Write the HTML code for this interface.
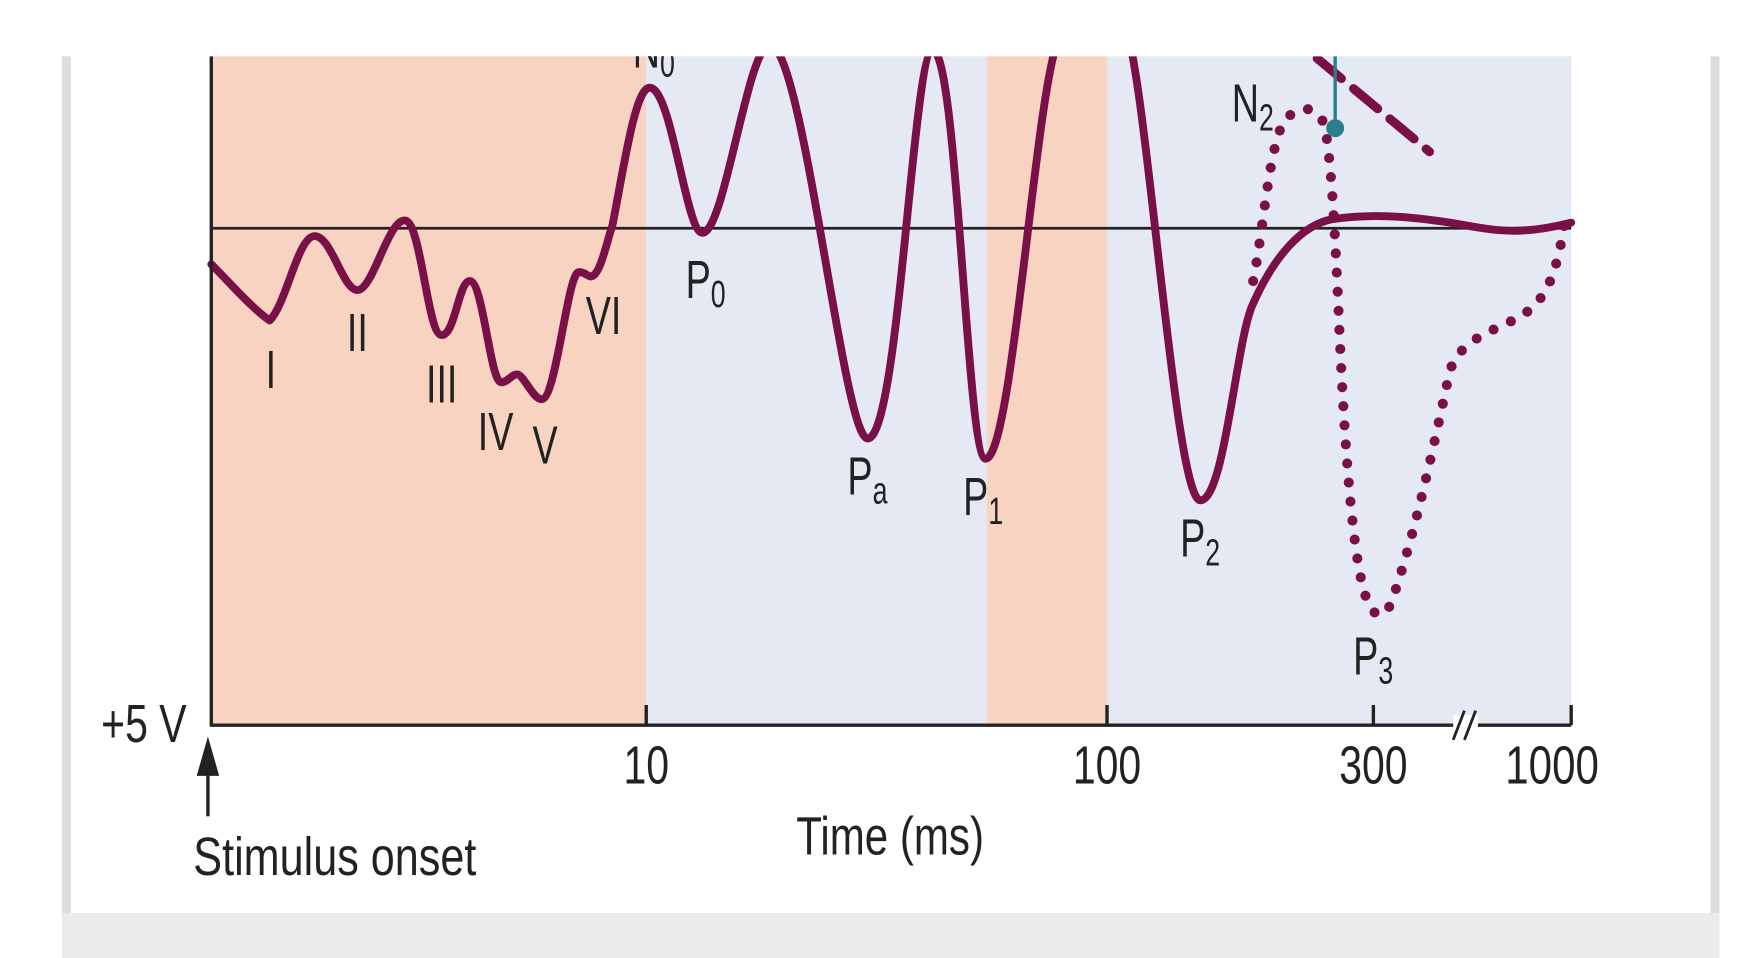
<!DOCTYPE html>
<html><head><meta charset="utf-8"><style>
html,body{margin:0;padding:0;background:#fff;width:1760px;height:958px;overflow:hidden}
svg{display:block}
text{font-family:"Liberation Sans",sans-serif;fill:#222}
</style></head><body>
<svg width="1760" height="958" viewBox="0 0 1566 852" preserveAspectRatio="none">
<defs><clipPath id="c"><rect x="150" y="50" width="1300" height="700"/></clipPath></defs>
<rect x="55" y="50" width="8" height="762" fill="#dcdcdc"/>
<rect x="1522" y="50" width="8" height="762" fill="#dcdcdc"/>
<rect x="55" y="812" width="1475" height="40" fill="#ebebeb"/>
<rect x="188" y="50" width="387" height="595" fill="#f9d3c2"/>
<rect x="575" y="50" width="303" height="595" fill="#e5e9f4"/>
<rect x="878" y="50" width="107" height="595" fill="#f9d3c2"/>
<rect x="985" y="50" width="413" height="595" fill="#e5e9f4"/>
<line x1="188" y1="203" x2="1398" y2="203" stroke="#222" stroke-width="2.5"/>
<g clip-path="url(#c)" fill="none" stroke="#7a1048" stroke-linecap="round" stroke-linejoin="round">
<path stroke-width="7" d="M188,235 C205,252 225,275 240,285 C255,270 265,210 280,210 C295,210 305,258 318,258 C332,258 345,196 360,196 C375,196 380,298 393,298 C405,298 408,250 418,250 C430,250 436,340 446,340 C452,340 455,333 460,333 C466,333 474,355 482,355 C495,355 505,242 515,242 C522,242 524,248 528,245 C535,240 540,215 545,200 C555,150 565,78 578,78 C598,78 610,207 625,207 C645,207 665,40 685,40 C715,40 750,390 772,390 C800,390 812,45 830,45 C852,45 860,408 877,408 C900,408 920,100 940,40 L945,20 M1000,20 C1020,60 1045,445 1068,445 C1090,445 1100,300 1115,270 C1135,225 1160,200 1185,195 C1220,190 1250,192 1290,198 C1330,205 1350,210 1398,198"/>
<path stroke-width="9" stroke-dasharray="0 17" d="M1115,250 C1125,200 1130,120 1145,105 C1155,95 1170,92 1178,110 C1186,140 1190,260 1193,320 C1198,420 1205,500 1215,530 C1222,550 1232,555 1240,530 C1260,470 1275,400 1290,330 C1300,300 1330,295 1355,280 C1378,265 1385,240 1392,200"/>
<path stroke-width="8" stroke-dasharray="28 14" d="M1172,52 L1272,135"/>
</g>
<line x1="1188" y1="50" x2="1188" y2="114" stroke="#2a7f8f" stroke-width="3"/>
<circle cx="1188" cy="114" r="8" fill="#2a7f8f"/>
<line x1="188" y1="50" x2="188" y2="646" stroke="#222" stroke-width="3"/>
<line x1="187" y1="645" x2="1398" y2="645" stroke="#222" stroke-width="3"/>
<g stroke="#222" stroke-width="3"><line x1="575" y1="627" x2="575" y2="645"/><line x1="985" y1="627" x2="985" y2="645"/><line x1="1222" y1="627" x2="1222" y2="645"/><line x1="1398" y1="627" x2="1398" y2="645"/></g>
<rect x="1293" y="636" width="22" height="18" fill="#fff"/>
<g stroke="#222" stroke-width="2.5"><line x1="1293" y1="658" x2="1303" y2="632"/><line x1="1303" y1="658" x2="1313" y2="632"/></g>
<g font-size="48" text-anchor="middle">
<text transform="translate(575,697) scale(0.76,1)">10</text>
<text transform="translate(985,697) scale(0.76,1)">100</text>
<text transform="translate(1222,697) scale(0.76,1)">300</text>
<text transform="translate(1381,697) scale(0.78,1)">1000</text>
<text transform="translate(792,760) scale(0.78,1)">Time (ms)</text>
<text transform="translate(241,345) scale(0.7,1)">I</text>
<text transform="translate(318,312) scale(0.7,1)">II</text>
<text transform="translate(393,358) scale(0.7,1)">III</text>
<text transform="translate(441,400) scale(0.7,1)">IV</text>
<text transform="translate(485,412) scale(0.7,1)">V</text>
<text transform="translate(537,297) scale(0.7,1)">VI</text>
</g>
<g font-size="48">
<text transform="translate(90,660) scale(0.76,1)">+5 V</text>
<text transform="translate(172,778) scale(0.8,1)">Stimulus onset</text>
<text transform="translate(610,265) scale(0.7,1)">P<tspan font-size="34" dy="8">0</tspan></text>
<text transform="translate(754,440) scale(0.7,1)">P<tspan font-size="34" dy="8">a</tspan></text>
<text transform="translate(857,458) scale(0.7,1)">P<tspan font-size="34" dy="8">1</tspan></text>
<text transform="translate(1050,495) scale(0.7,1)">P<tspan font-size="34" dy="8">2</tspan></text>
<text transform="translate(1204,600) scale(0.7,1)">P<tspan font-size="34" dy="8">3</tspan></text>
<text transform="translate(1096,108) scale(0.7,1)">N<tspan font-size="34" dy="8">2</tspan></text>
<text transform="translate(563,60) scale(0.7,1)">N<tspan font-size="34" dy="8">0</tspan></text>
</g>
<rect x="0" y="0" width="1566" height="50" fill="#fff"/>
<polygon points="185,655 175,690 195,690" fill="#222"/>
<line x1="185" y1="680" x2="185" y2="726" stroke="#222" stroke-width="3"/>
</svg>
</body></html>
